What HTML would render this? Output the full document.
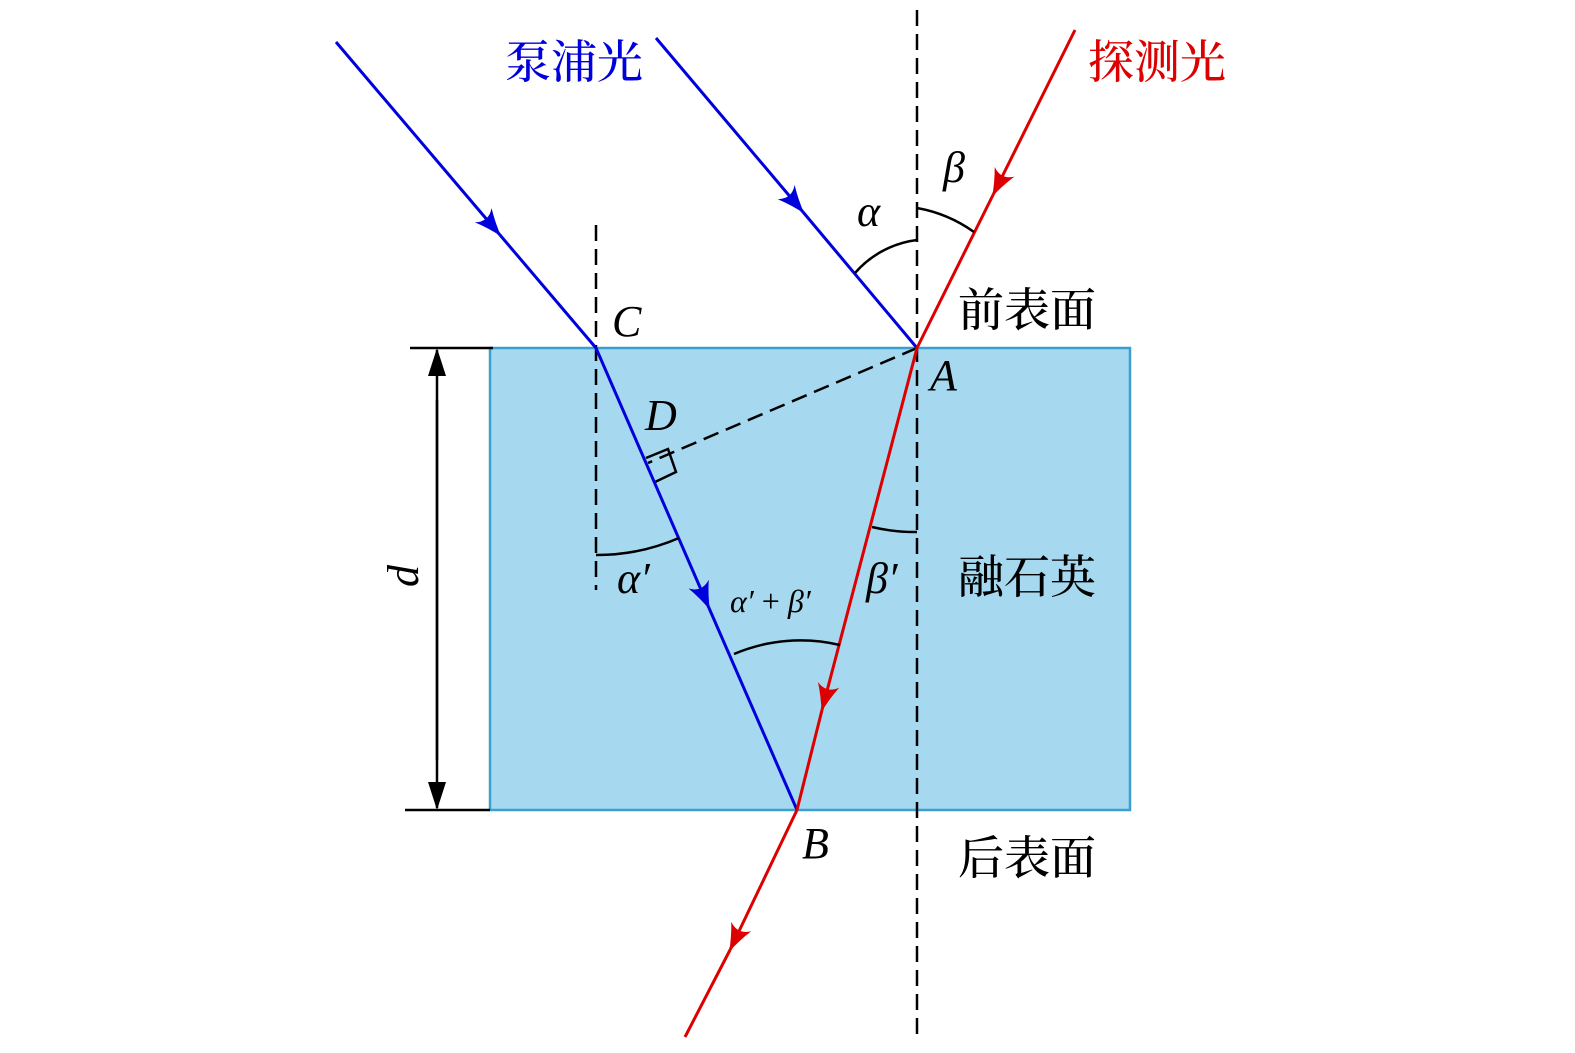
<!DOCTYPE html>
<html><head><meta charset="utf-8"><style>
html,body{margin:0;padding:0;background:#fff;overflow:hidden;width:1575px;height:1053px}
svg{display:block;position:absolute;left:0;top:0}
.cjk{font-family:"Liberation Serif","Noto Serif CJK SC","Noto Sans CJK SC",serif;font-size:46px;font-weight:500}
.it{font-family:"Liberation Serif",serif;font-style:italic;font-size:44px}
</style></head><body>
<svg width="1575" height="1053" viewBox="0 0 1575 1053" xmlns="http://www.w3.org/2000/svg">
<defs>
<marker id="ab" markerWidth="34" markerHeight="24" refX="26" refY="12" orient="auto" markerUnits="userSpaceOnUse">
<path d="M0,1 Q14,8 28,12 Q14,16 0,23 Q9,12 0,1Z" fill="#0000dd"/></marker>
<marker id="ar" markerWidth="34" markerHeight="24" refX="26" refY="12" orient="auto" markerUnits="userSpaceOnUse">
<path d="M0,1 Q14,8 28,12 Q14,16 0,23 Q9,12 0,1Z" fill="#dd0000"/></marker>
<marker id="ak" markerWidth="30" markerHeight="24" refX="26" refY="12" orient="auto" markerUnits="userSpaceOnUse">
<path d="M0,3 L28,12 L0,21 Z" fill="#000"/></marker>
</defs>
<rect x="490" y="348" width="640" height="462" fill="#a6d9ef" stroke="#3aa0d0" stroke-width="2.5"/>
<g stroke="#000" stroke-width="2.5" stroke-dasharray="16,8" fill="none">
<line x1="917" y1="10" x2="917" y2="1040"/>
<line x1="596" y1="225" x2="596" y2="590"/>
<line x1="917" y1="348" x2="648" y2="463"/>
</g>
<path d="M646,458 L668,449 L676,472 L655,482" fill="none" stroke="#000" stroke-width="2.5"/>
<g stroke="#000" stroke-width="2.5">
<line x1="410" y1="348" x2="493" y2="348"/>
<line x1="405" y1="810" x2="490" y2="810"/>
<line x1="437" y1="400" x2="437" y2="760"/>
<line x1="437" y1="580" x2="437" y2="350" marker-end="url(#ak)"/>
<line x1="437" y1="580" x2="437" y2="808" marker-end="url(#ak)"/>
</g>
<g stroke="#0000dd" stroke-width="3" fill="none">
<line x1="336" y1="42" x2="500" y2="235" marker-end="url(#ab)"/>
<polyline points="500,235 596,348"/>
<line x1="596" y1="348" x2="709" y2="608" marker-end="url(#ab)"/>
<line x1="709" y1="608" x2="797" y2="810"/>
<line x1="656" y1="38" x2="803" y2="212" marker-end="url(#ab)"/>
<line x1="803" y1="212" x2="917" y2="348"/>
</g>
<g stroke="#dd0000" stroke-width="3" fill="none">
<line x1="1075" y1="30" x2="993" y2="195" marker-end="url(#ar)"/>
<line x1="993" y1="195" x2="917" y2="348"/>
<line x1="917" y1="348" x2="822" y2="710" marker-end="url(#ar)"/>
<line x1="822" y1="710" x2="797" y2="810"/>
<line x1="797" y1="810" x2="730" y2="950" marker-end="url(#ar)"/>
<line x1="730" y1="950" x2="685" y2="1037"/>
</g>
<g stroke="#000" stroke-width="2.5" fill="none">
<path d="M855,273 A98,98 0 0 1 917,240"/>
<path d="M917,208 A140,140 0 0 1 974,232"/>
<path d="M872,527 A185,185 0 0 0 917,532"/>
<path d="M596,555 A207,207 0 0 0 679,538"/>
<path d="M734,654 A170,170 0 0 1 840,645"/>
</g>
<text x="505" y="78" class="cjk" fill="#0000dd">泵浦光</text>
<text x="1088" y="78" class="cjk" fill="#dd0000">探测光</text>
<text x="958" y="326" class="cjk">前表面</text>
<text x="958" y="593" class="cjk">融石英</text>
<text x="958" y="874" class="cjk">后表面</text>
<text x="612" y="336" class="it">C</text>
<text x="930" y="390" class="it">A</text>
<text x="645" y="430" class="it">D</text>
<text x="802" y="858" class="it">B</text>
<text class="it" transform="translate(418,576) rotate(-90)" text-anchor="middle">d</text>
<text x="857" y="226" class="it">α</text>
<text x="943" y="182" class="it">β</text>
<text x="617" y="593" class="it">α′</text>
<text x="866" y="593" class="it">β′</text>
<text x="730" y="612" class="it" style="font-size:32px">α′<tspan font-style="normal"> + </tspan>β′</text>
</svg>
</body></html>
